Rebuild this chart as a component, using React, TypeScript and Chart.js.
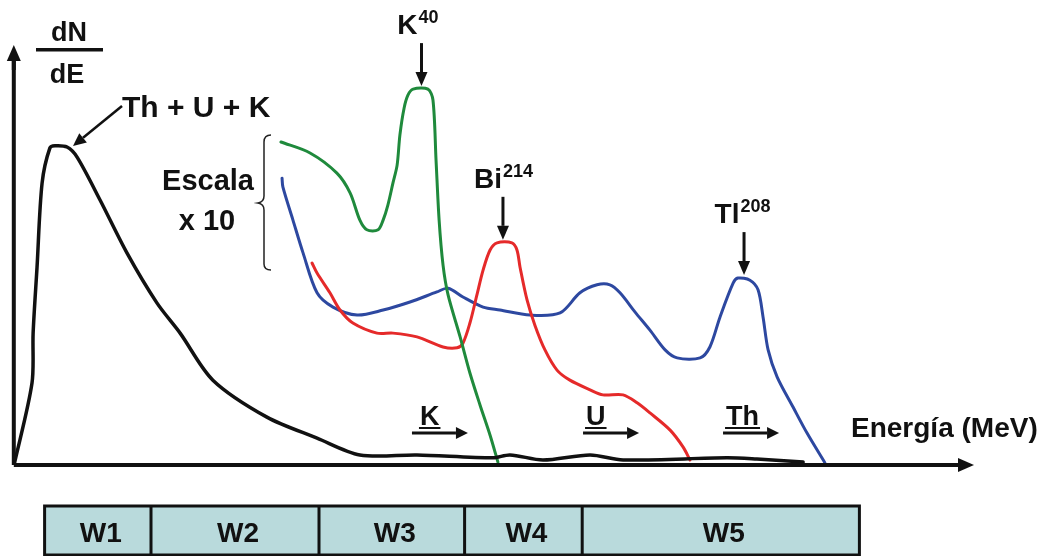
import React, { useEffect, useRef } from "react";
import { Chart, registerables } from "chart.js";

Chart.register(...registerables);

// Energy (MeV) and dN/dE (arbitrary units)
const totalEnergy = [0.011, 0.075, 0.079, 0.093, 0.111, 0.139, 0.157, 0.2, 0.236, 0.318, 0.414, 0.521, 0.604, 0.721, 0.914, 1.093, 1.246, 1.45, 1.721, 1.782, 1.9, 2.068, 2.186, 2.557, 2.664, 2.829];
const totalCounts = [0, 19.5, 31.4, 47.1, 67.1, 75.5, 76.0, 75.7, 73.3, 63.1, 50.5, 38.6, 31.4, 20.2, 11.4, 6.4, 2.4, 2.4, 1.7, 2.4, 1.2, 2.4, 1.2, 1.7, 1.4, 0.7];

const kEnergy = [0.964, 1.068, 1.164, 1.211, 1.246, 1.271, 1.311, 1.329, 1.346, 1.364, 1.379, 1.389, 1.404, 1.418, 1.436, 1.489, 1.507, 1.518, 1.529, 1.543, 1.561, 1.604, 1.639, 1.675, 1.711, 1.739];
const kCounts = [76.9, 74.3, 69.5, 64.8, 58.3, 56.0, 56.0, 58.3, 61.9, 67.1, 71.4, 78.6, 85.0, 88.1, 89.5, 89.5, 86.9, 72.6, 58.3, 47.6, 40.5, 30.5, 21.9, 14.3, 7.1, 0.7];

const uEnergy = [1.075, 1.093, 1.139, 1.175, 1.221, 1.307, 1.364, 1.45, 1.543, 1.593, 1.614, 1.639, 1.664, 1.686, 1.711, 1.736, 1.789, 1.807, 1.818, 1.843, 1.871, 1.907, 1.95, 1.996, 2.068, 2.114, 2.186, 2.236, 2.282, 2.354, 2.4, 2.425];
const uCounts = [48.1, 45.7, 41.0, 36.9, 33.8, 31.4, 31.4, 30.5, 28.1, 27.9, 29.0, 33.8, 40.5, 46.4, 51.2, 52.9, 52.9, 51.2, 47.1, 39.3, 33.3, 27.4, 22.6, 20.2, 17.9, 16.7, 16.7, 14.8, 12.4, 8.3, 4.3, 1.2];

const thEnergy = [0.968, 0.971, 1.007, 1.043, 1.093, 1.15, 1.236, 1.329, 1.425, 1.521, 1.561, 1.614, 1.686, 1.746, 1.854, 1.961, 2.032, 2.093, 2.139, 2.175, 2.229, 2.282, 2.336, 2.379, 2.461, 2.496, 2.532, 2.579, 2.596, 2.639, 2.668, 2.686, 2.704, 2.736, 2.793, 2.843, 2.907];
const thCounts = [68.3, 66.2, 58.3, 50.5, 41.0, 37.6, 35.7, 36.9, 38.8, 41.2, 42.1, 40.0, 37.6, 36.9, 35.7, 36.2, 41.0, 42.9, 42.9, 41.0, 36.4, 32.1, 27.4, 25.5, 25.5, 28.1, 35.2, 43.3, 44.5, 44.0, 41.7, 35.2, 27.4, 21.0, 13.8, 7.6, 0.5];

// Window edges (MeV) and labels
const windowEdges = [0.12, 0.5, 1.1, 1.62, 2.04, 3.03];
const windowLabels = ["W1", "W2", "W3", "W4", "W5"];

// Peak annotations
const peakLabels = ["K", "Bi", "Tl"];
const peakSup = ["40", "214", "208"];
const peakEnergy = [1.466, 1.757, 2.618];
const peakCounts = [89.5, 52.9, 44.5];

// Window arrows above the energy axis
const rangeLabels = ["K", "U", "Th"];
const rangeStart = [1.432, 2.043, 2.543];

const FONT = '"Liberation Sans", Arial, sans-serif';

function pairs(xs: number[], ys: number[]) {
  return xs.map((x, i) => ({ x, y: ys[i] }));
}

function arrow(ctx: CanvasRenderingContext2D, x1: number, y1: number, x2: number, y2: number, lw = 3, head = 12, hw = 6) {
  const a = Math.atan2(y2 - y1, x2 - x1);
  const bx = x2 - head * Math.cos(a);
  const by = y2 - head * Math.sin(a);
  ctx.save();
  ctx.strokeStyle = "#111";
  ctx.fillStyle = "#111";
  ctx.lineWidth = lw;
  ctx.beginPath();
  ctx.moveTo(x1, y1);
  ctx.lineTo(bx, by);
  ctx.stroke();
  ctx.beginPath();
  ctx.moveTo(x2, y2);
  ctx.lineTo(bx + hw * Math.sin(a), by - hw * Math.cos(a));
  ctx.lineTo(bx - hw * Math.sin(a), by + hw * Math.cos(a));
  ctx.closePath();
  ctx.fill();
  ctx.restore();
}

const decorPlugin = {
  id: "decor",
  afterDatasetsDraw(chart: any) {
    const ctx: CanvasRenderingContext2D = chart.ctx;
    const xs = chart.scales.x;
    const ys = chart.scales.y;
    const x0 = xs.getPixelForValue(0.01);
    const y0 = ys.getPixelForValue(0);
    ctx.save();

    // axes
    ctx.strokeStyle = "#111";
    ctx.lineWidth = 4;
    ctx.beginPath();
    ctx.moveTo(x0, y0);
    ctx.lineTo(960, y0);
    ctx.moveTo(x0, y0);
    ctx.lineTo(x0, 60);
    ctx.stroke();
    arrow(ctx, 950, y0, 974, y0, 4, 16, 7);
    arrow(ctx, x0, 70, x0, 45, 4, 16, 7);

    ctx.fillStyle = "#111";
    ctx.textBaseline = "alphabetic";

    // dN/dE
    ctx.font = `bold 27px ${FONT}`;
    ctx.textAlign = "center";
    ctx.fillText("dN", 69, 41);
    ctx.fillText("dE", 67, 83);
    ctx.fillRect(36, 48, 67, 3.5);

    // Th + U + K
    ctx.font = `bold 30px ${FONT}`;
    ctx.textAlign = "left";
    ctx.fillText("Th + U + K", 122, 117);
    arrow(ctx, 122, 106, 73, 146, 2.5, 13, 6);

    // Escala x 10
    ctx.textAlign = "center";
    ctx.font = `bold 29px ${FONT}`;
    ctx.fillText("Escala", 208, 190);
    ctx.fillText("x 10", 207, 230);

    // brace
    ctx.strokeStyle = "#222";
    ctx.lineWidth = 1.5;
    ctx.beginPath();
    ctx.moveTo(271, 135);
    ctx.quadraticCurveTo(264, 135, 264, 142);
    ctx.lineTo(264, 196);
    ctx.quadraticCurveTo(264, 202, 258, 203);
    ctx.quadraticCurveTo(264, 204, 264, 210);
    ctx.lineTo(264, 264);
    ctx.quadraticCurveTo(264, 270, 271, 270);
    ctx.stroke();

    // peak labels
    const shifts = [-4, 0, -2];
    peakLabels.forEach((lab, i) => {
      const px = xs.getPixelForValue(peakEnergy[i]);
      const py = ys.getPixelForValue(peakCounts[i]);
      const baseY = py - 55;
      ctx.font = `bold 28px ${FONT}`;
      const w1 = ctx.measureText(lab).width;
      ctx.font = `bold 18px ${FONT}`;
      const w2 = ctx.measureText(peakSup[i]).width;
      const left = px - (w1 + w2) / 2 + shifts[i];
      ctx.textAlign = "left";
      ctx.font = `bold 28px ${FONT}`;
      ctx.fillText(lab, left, baseY);
      ctx.font = `bold 18px ${FONT}`;
      ctx.fillText(peakSup[i], left + w1 + 1, baseY - 11);
      arrow(ctx, px, baseY + 9, px, py - 3, 3, 14, 6);
    });

    // range arrows
    rangeLabels.forEach((lab, i) => {
      const px = xs.getPixelForValue(rangeStart[i]);
      ctx.font = `bold 27px ${FONT}`;
      ctx.textAlign = "left";
      const tx = px + (i === 0 ? 8 : 3);
      ctx.fillText(lab, tx, 425);
      const w = ctx.measureText(lab).width;
      ctx.fillRect(tx - 1, 427, w + 2, 2);
      arrow(ctx, px, 433, px + 56, 433, 3, 12, 6);
    });

    // Energía label
    ctx.font = `bold 28px ${FONT}`;
    ctx.textAlign = "left";
    ctx.fillText("Energía (MeV)", 851, 437);

    // windows table
    const top = 506;
    const bottom = 555;
    const l = xs.getPixelForValue(windowEdges[0]);
    const r = xs.getPixelForValue(windowEdges[windowEdges.length - 1]);
    ctx.fillStyle = "#b9dadc";
    ctx.fillRect(l, top, r - l, bottom - top);
    ctx.strokeStyle = "#111";
    ctx.lineWidth = 3;
    ctx.strokeRect(l, top, r - l, bottom - top);
    ctx.beginPath();
    for (let i = 1; i < windowEdges.length - 1; i++) {
      const px = xs.getPixelForValue(windowEdges[i]);
      ctx.moveTo(px, top);
      ctx.lineTo(px, bottom);
    }
    ctx.stroke();
    ctx.fillStyle = "#111";
    ctx.font = `bold 28px ${FONT}`;
    ctx.textAlign = "center";
    windowLabels.forEach((lab, i) => {
      const a = xs.getPixelForValue(windowEdges[i]);
      const b = xs.getPixelForValue(windowEdges[i + 1]);
      ctx.fillText(lab, (a + b) / 2 + 3, 542);
    });

    ctx.restore();
  },
};

export default function App() {
  const ref = useRef<HTMLCanvasElement | null>(null);
  useEffect(() => {
    if (!ref.current) return;
    const common = {
      pointRadius: 0,
      fill: false,
      tension: 0.3,
      borderCapStyle: "round" as const,
      borderJoinStyle: "round" as const,
    };
    const chart = new Chart(ref.current, {
      type: "line",
      data: {
        datasets: [
          { ...common, label: "Th + U + K", data: pairs(totalEnergy, totalCounts), borderColor: "#111111", borderWidth: 3.5 },
          { ...common, label: "K (x10)", data: pairs(kEnergy, kCounts), borderColor: "#1f8a3c", borderWidth: 3 },
          { ...common, label: "U (x10)", data: pairs(uEnergy, uCounts), borderColor: "#e52a2a", borderWidth: 3 },
          { ...common, label: "Th (x10)", data: pairs(thEnergy, thCounts), borderColor: "#2d48a0", borderWidth: 3 },
        ],
      },
      options: {
        animation: false,
        responsive: false,
        devicePixelRatio: 1,
        layout: { padding: { left: 11, right: 94, top: 45, bottom: 91 } },
        plugins: { legend: { display: false }, tooltip: { enabled: false } },
        scales: {
          x: { type: "linear", min: 0, max: 3.4, display: false },
          y: { type: "linear", min: 0, max: 100, display: false },
        },
      },
      plugins: [decorPlugin],
    });
    return () => chart.destroy();
  }, []);
  return (
    <div style={{ position: "absolute", left: 0, top: 0, width: 1057, height: 556, background: "#fff" }}>
      <canvas ref={ref} width={1057} height={556} style={{ width: 1057, height: 556, display: "block" }} />
    </div>
  );
}
